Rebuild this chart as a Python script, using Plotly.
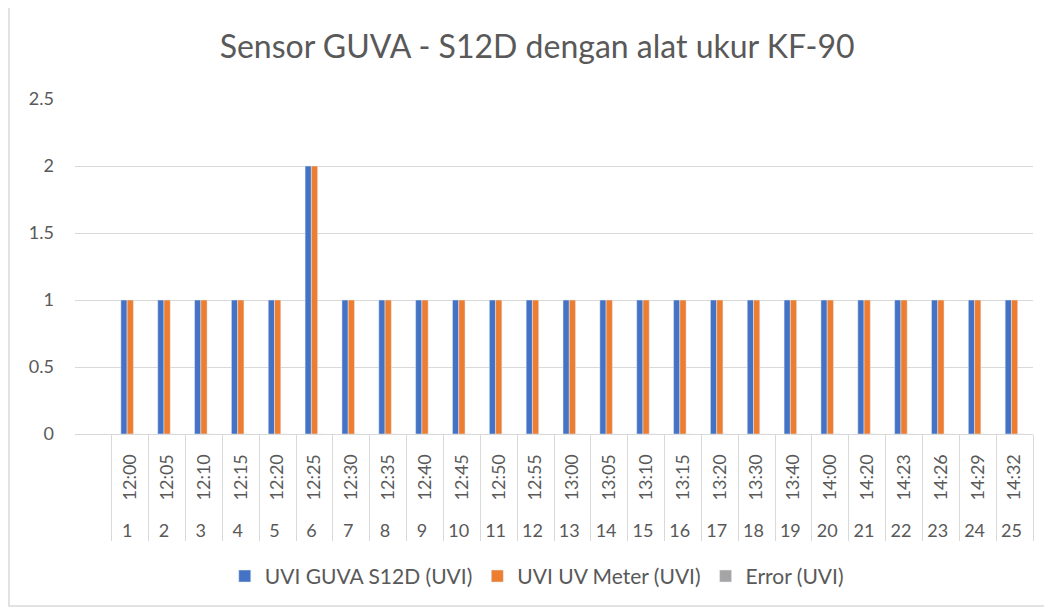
import plotly.graph_objects as go

nomor = [str(i) for i in range(1, 26)]
waktu = ["12:00", "12:05", "12:10", "12:15", "12:20", "12:25", "12:30", "12:35", "12:40",
         "12:45", "12:50", "12:55", "13:00", "13:05", "13:10", "13:15", "13:20", "13:30",
         "13:40", "14:00", "14:20", "14:23", "14:26", "14:29", "14:32"]
uvi_guva = [1, 1, 1, 1, 1, 2, 1, 1, 1, 1, 1, 1, 1, 1, 1, 1, 1, 1, 1, 1, 1, 1, 1, 1, 1]
uvi_meter = [1, 1, 1, 1, 1, 2, 1, 1, 1, 1, 1, 1, 1, 1, 1, 1, 1, 1, 1, 1, 1, 1, 1, 1, 1]
error_uvi = [0] * 25

FONT = "Lato, 'Open Sans', sans-serif"
TXT = "#595959"
PAD = "\u00a0" * 3

x = [nomor, [PAD + w for w in waktu]]

fig = go.Figure()
fig.add_trace(go.Bar(x=x, y=uvi_guva, name="UVI GUVA S12D (UVI)", marker_color="#4472C4"))
fig.add_trace(go.Bar(x=x, y=uvi_meter, name="UVI UV Meter (UVI)", marker_color="#ED7D31"))
fig.add_trace(go.Bar(x=x, y=error_uvi, name="Error (UVI)", marker_color="#A5A5A5"))

# page body adds an 8px offset; margins compensate
fig.update_layout(
    width=1052, height=608,
    margin=dict(l=67, r=27, t=91, b=182, autoexpand=False),
    paper_bgcolor="white", plot_bgcolor="white",
    font=dict(family=FONT, color=TXT, size=18),
    barmode="group", bargap=0.49, bargroupgap=0,
    title=dict(text="Sensor GUVA - S12D dengan alat ukur KF-90", x=0.503, xanchor="center",
               xref="container", y=0.936, yanchor="middle",
               font=dict(size=32, color=TXT, family=FONT)),
    legend=dict(orientation="h", x=0.482, xanchor="center", y=-0.425, yanchor="middle",
                font=dict(size=21, color=TXT), traceorder="normal", itemwidth=30),
    showlegend=True,
)
fig.update_yaxes(range=[0, 2.5], dtick=0.5, showgrid=True, gridcolor="#D9D9D9", gridwidth=1,
                 zeroline=False, showline=False, ticks="", tickfont=dict(size=18, color=TXT),
                 ticklabelstandoff=20, automargin=False)
fig.update_xaxes(type="multicategory", range=[-1.5, 24.5], showline=True, linecolor="#D9D9D9",
                 showdividers=True, dividercolor="#D9D9D9", dividerwidth=1,
                 tickangle=-90, tickfont=dict(size=18, color=TXT), showgrid=False,
                 automargin=False, ticklabelstandoff=12)

# outer chart border (left / right / bottom edges)
fig.add_shape(type="rect", xref="paper", yref="paper",
              x0=(9 - 75) / 958, x1=(1046 - 75) / 958,
              y0=(434 - 606) / 335, y1=(434 - 2) / 335,
              line=dict(color="#D9D9D9", width=1.5), fillcolor="rgba(0,0,0,0)")

fig.write_html("out.html")
